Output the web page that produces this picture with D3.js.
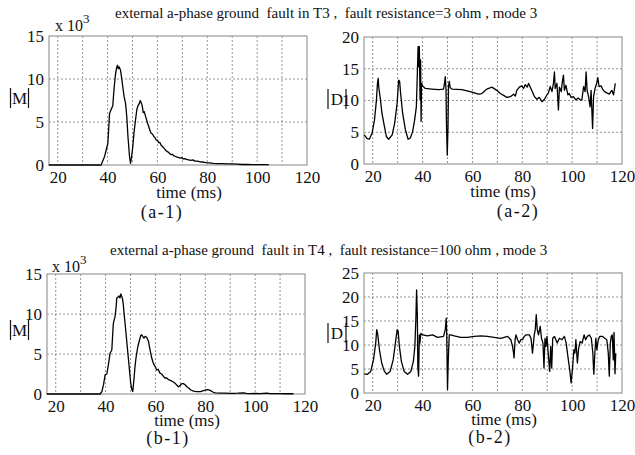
<!DOCTYPE html>
<html>
<head>
<meta charset="utf-8">
<script src="https://cdn.jsdelivr.net/npm/d3@7"></script>
<style>
  body { margin: 0; background: #fff; }
  svg text { font-family: "Liberation Serif", "Times New Roman", serif; fill: #111; }
</style>
</head>
<body>
<div id="chart"></div>
<script>
// Width and height
var w = 635;
var h = 455;

// x axis (time, ms)
var xTicks = [20, 40, 60, 80, 100, 120];
var xGrid = [20, 30, 40, 50, 60, 70, 80, 90, 100, 110];

// y ticks
var yTicksM = [0, 5, 10, 15];
var yTicksDa = [0, 5, 10, 15, 20];
var yTicksDb = [0, 5, 10, 15, 20, 25];

var titles = [
  "external a-phase ground  fault in T3 ,  fault resistance=3 ohm , mode 3",
  "external a-phase ground  fault in T4 ,  fault resistance=100 ohm , mode 3"
];
var captions = ["(a-1)", "(a-2)", "(b-1)", "(b-2)"];

// |M| (x 10^3), T3 fault, 3 ohm
var a1Series = [[16.4,0],[37.4,0],[38.8,1.0],[39.5,1.8],[40.1,2.5],[40.5,4.5],[40.8,6.0],[41.5,6.5],[42.1,6.9],
  [42.5,8.5],[42.8,9.5],[43.2,10.6],[43.7,11.4],[44.0,11.6],[44.3,11.2],[44.7,11.4],[45.2,11.0],[45.6,10.2],
  [46.1,9.1],[46.6,8.0],[47.2,7.2],[47.5,6.3],[47.7,5.6],[48.2,3.2],[48.8,1.0],[49.2,0.2],[49.6,0.9],[50.1,2.1],
  [50.6,3.8],[51.2,5.2],[51.7,6.4],[52.2,6.9],[52.8,7.2],[53.1,7.5],[53.4,7.3],[53.7,7.1],[54.0,6.7],[54.3,6.1],
  [54.7,6.2],[55.1,5.8],[55.6,5.3],[56.1,4.8],[56.5,4.5],[57.0,4.0],[57.5,3.7],[58.0,3.6],[58.6,3.3],[59.0,3.2],
  [59.5,2.9],[60.0,2.9],[60.5,2.6],[61.0,2.6],[61.5,2.3],[62.2,2.1],[62.8,1.9],[63.3,1.7],[63.8,1.6],[64.3,1.5],
  [64.9,1.35],[65.5,1.2],[66.0,1.25],[66.6,1.05],[67.2,1.0],[67.6,0.95],[68.3,0.9],[69.0,0.8],[69.7,0.85],[70.4,0.7],
  [71.0,0.75],[71.6,0.65],[72.5,0.6],[73.4,0.55],[74.2,0.6],[75.0,0.45],[76.0,0.45],[76.9,0.38],[78.0,0.35],
  [79.0,0.3],[80.0,0.25],[81.0,0.25],[82.3,0.2],[84.0,0.15],[86.0,0.15],[88.0,0.12],[90.3,0.12],[92.0,0.1],
  [94.0,0.06],[96.0,0.08],[98.0,0.05],[100.0,0.05],[102.0,0.04],[104.0,0.05],[104.6,0.03]];

// |D|, T3 fault, 3 ohm
var a2Series = [[16.6,4.6],[17.7,4.05],[18.6,3.9],[19.7,4.8],[20.7,6.9],[21.5,10.1],[21.9,12.7],[22.2,13.5],
  [22.4,12.2],[23.1,10.1],[23.7,8.0],[24.7,5.9],[25.5,4.3],[26.4,3.9],[27.8,4.6],[28.8,6.4],[29.8,9.6],[30.4,13.2],
  [30.8,13.0],[31.2,11.1],[32.0,8.0],[33.1,5.4],[34.2,3.9],[35.1,4.1],[36.0,5.1],[36.8,6.9],[37.5,9.0],[37.9,14.3],
  [38.2,18.5],[38.5,15.3],[38.7,18.5],[39.0,10.1],[39.2,16.4],[39.4,6.7],[39.6,12.7],[40.0,12.3],[41.1,11.9],
  [43.7,11.8],[46.5,11.7],[48.4,11.8],[48.8,12.7],[49.1,13.75],[49.4,11.7],[49.6,5.9],[49.9,1.4],[50.2,5.9],
  [50.4,12.2],[50.7,13.0],[51.1,12.0],[51.8,11.8],[55.8,11.7],[59.1,11.4],[62.4,11.0],[63.8,11.1],[65.8,11.8],
  [67.8,12.1],[69.8,11.6],[71.2,11.1],[72.5,10.8],[73.8,10.5],[75.2,10.6],[76.5,11.0],[77.2,10.7],[77.8,11.6],
  [78.8,12.1],[79.8,12.3],[80.5,11.9],[81.2,12.5],[82.0,12.1],[82.5,12.7],[83.2,12.1],[83.9,11.5],[84.9,10.6],
  [85.9,10.2],[86.8,10.5],[87.9,9.8],[88.9,10.2],[89.9,10.9],[90.5,11.2],[91.2,12.2],[91.9,11.4],[92.5,12.7],
  [92.9,14.5],[93.2,11.9],[93.9,12.7],[94.5,8.5],[94.9,12.1],[95.6,11.4],[96.1,13.0],[96.5,14.0],[96.9,11.6],
  [97.5,12.4],[98.3,10.9],[98.8,11.1],[99.6,10.5],[100.5,10.6],[101.5,10.1],[102.5,10.4],[103.2,10.1],[103.9,10.1],
  [104.6,12.2],[105.2,11.4],[105.6,14.5],[106.0,11.6],[106.6,10.6],[107.2,9.0],[107.6,11.6],[108.2,5.6],[108.6,10.6],
  [109.2,11.9],[109.9,12.8],[110.3,13.6],[110.8,12.2],[111.6,12.3],[112.2,11.8],[113.0,11.4],[113.9,11.2],
  [114.9,11.0],[115.9,11.6],[116.6,10.9],[117.3,12.7]];

// |M| (x 10^3), T4 fault, 100 ohm
var b1Series = [[16.4,0],[37.8,0],[38.5,0.3],[39.2,1.2],[39.8,2.4],[40.5,2.5],[41.2,3.8],[41.8,5.1],[42.5,5.5],
  [43.1,8.8],[43.8,9.7],[44.2,10.8],[44.5,12.0],[44.9,12.1],[45.4,12.25],[45.8,12.0],[46.1,12.5],[46.5,12.2],
  [46.8,11.9],[47.1,11.2],[47.4,10.1],[47.8,8.9],[48.2,7.6],[48.7,5.9],[49.2,4.25],[49.7,2.6],[50.1,1.3],[50.5,0.6],
  [50.9,0.3],[51.4,1.9],[51.8,3.4],[52.2,4.5],[52.5,5.1],[53.0,6.0],[53.6,6.75],[54.1,7.3],[54.5,7.4],[54.9,7.2],
  [55.4,7.0],[55.9,7.2],[56.5,7.1],[56.9,6.8],[57.2,6.6],[57.6,5.9],[58.1,5.1],[58.6,4.4],[59.2,3.8],[59.8,3.5],
  [60.5,3.0],[61.1,3.1],[61.8,2.6],[62.5,2.5],[63.2,2.2],[63.8,2.0],[64.5,2.0],[65.2,1.8],[66.0,1.7],[67.2,1.5],
  [68.0,1.3],[69.2,0.9],[70.0,1.1],[70.6,1.3],[71.2,1.3],[71.9,1.15],[72.6,0.9],[73.3,0.75],[74.2,0.5],[75.3,0.35],
  [76.5,0.3],[78.0,0.3],[79.0,0.4],[80.0,0.5],[81.0,0.55],[82.0,0.45],[83.0,0.25],[84.0,0.15],[86.0,0.12],
  [88.0,0.1],[90.0,0.08],[91.4,0.08],[93.0,0.1],[95.4,0.15],[96.5,0.08],[98.0,0.05],[100.0,0.06],[102.0,0.05],
  [104.7,0.1],[106.0,0.05],[108.0,0.04],[110.0,0.05],[112.0,0.03],[115.4,0.03]];

// |D|, T4 fault, 100 ohm
var b2Series = [[16.6,4.0],[17.9,3.9],[19.2,4.5],[20.3,6.9],[21.2,10.4],[21.6,13.2],[22.0,12.2],[22.7,9.0],
  [23.6,6.25],[24.6,4.6],[25.6,3.9],[27.0,4.5],[28.2,6.9],[29.1,10.4],[29.8,13.2],[30.2,12.9],[30.7,9.7],[31.5,6.6],
  [32.6,4.5],[34.0,3.9],[35.3,4.5],[36.3,6.6],[36.9,9.7],[37.3,15.3],[37.6,21.5],[37.9,16.0],[38.1,5.5],[38.4,3.5],
  [38.7,12.1],[38.9,10.4],[39.3,12.4],[40.0,12.1],[42.0,11.9],[44.0,12.1],[46.0,11.6],[48.4,11.8],[49.1,13.2],
  [49.5,15.6],[49.7,11.8],[50.0,0.7],[50.3,6.9],[50.7,12.1],[51.3,12.1],[52.7,11.9],[55.3,11.6],[58.0,11.6],
  [60.7,11.8],[63.4,11.9],[66.0,11.8],[68.7,11.6],[71.4,11.4],[74.1,11.8],[75.4,11.1],[76.1,9.7],[76.5,8.3],
  [76.7,7.3],[77.1,11.1],[77.5,12.1],[78.1,11.1],[78.8,10.4],[79.4,11.1],[80.1,11.1],[80.8,11.8],[81.4,12.1],
  [82.1,12.1],[82.8,12.1],[83.5,11.4],[84.1,8.3],[84.8,12.1],[85.2,13.2],[85.6,16.3],[86.0,13.2],[86.5,12.1],
  [87.2,13.9],[87.7,11.4],[88.3,10.4],[88.7,5.2],[89.1,11.4],[89.5,9.7],[89.9,11.8],[90.6,6.9],[91.0,4.5],
  [91.4,9.7],[91.8,5.2],[92.2,11.4],[92.9,11.8],[94.0,10.4],[94.9,11.4],[95.9,11.1],[96.9,11.8],[97.6,10.4],
  [98.3,7.6],[99.1,4.5],[99.6,2.1],[100.2,5.5],[100.7,9.0],[101.1,8.3],[101.5,11.1],[102.1,6.25],[102.6,9.3],
  [103.2,10.7],[104.0,10.4],[104.8,12.1],[105.4,11.1],[106.1,11.8],[106.9,12.1],[107.7,11.4],[108.3,8.3],
  [108.7,3.9],[109.1,8.3],[109.5,11.4],[109.9,9.0],[110.5,11.1],[111.1,11.8],[112.1,11.8],[113.1,11.4],
  [113.9,11.1],[114.5,8.3],[114.9,3.5],[115.3,10.4],[115.7,11.8],[116.1,12.1],[116.5,6.9],[116.8,12.6],
  [117.2,4.0],[117.5,8.3]];

var serif = "'Liberation Serif', 'Times New Roman', serif";

// Create SVG element
var svg = d3.select("#chart")
  .append("svg")
  .attr("width", w)
  .attr("height", h)
  .attr("font-family", serif);

// panel layout (pixel boxes) - positions only
var panels = [
  { data: a1Series, yTicks: yTicksM, yMax: 15, sym: "M", exp: true, caption: captions[0],
    left: 49, right: 307, top: 36, bottom: 165, capX: 162, capY: 218, labX: 189, labY: 198,
    symX: 19.5, symY: 98, expX: 55, expY: 31 },
  { data: a2Series, yTicks: yTicksDa, yMax: 20, sym: "D", exp: false, caption: captions[1],
    left: 364, right: 622, top: 37, bottom: 164, capX: 518, capY: 217, labX: 503, labY: 197,
    symX: 337, symY: 99 },
  { data: b1Series, yTicks: yTicksM, yMax: 15, sym: "M", exp: true, caption: captions[2],
    left: 47, right: 305, top: 274, bottom: 394, capX: 168, capY: 444, labX: 187, labY: 426,
    symX: 19.5, symY: 330, expX: 52, expY: 272 },
  { data: b2Series, yTicks: yTicksDb, yMax: 25, sym: "D", exp: false, caption: captions[3],
    left: 364, right: 622, top: 273, bottom: 393, capX: 490, capY: 443, labX: 504, labY: 425,
    symX: 337, symY: 333 }
];

// titles
svg.append("text")
  .attr("x", 115).attr("y", 18)
  .style("font-size", "15px")
  .style("white-space", "pre")
  .text(titles[0]);
svg.append("text")
  .attr("x", 110).attr("y", 255)
  .style("font-size", "15px")
  .style("white-space", "pre")
  .text(titles[1]);

panels.forEach(function(p) {

  var x = d3.scaleLinear()
    .domain([16.5, 120])
    .range([p.left, p.right]);

  var y = d3.scaleLinear()
    .domain([0, p.yMax])
    .range([p.bottom, p.top]);

  var g = svg.append("g");

  // dotted grid
  g.selectAll(".vgrid")
    .data(xGrid)
    .enter()
    .append("line")
    .attr("x1", function(d) { return x(d); })
    .attr("x2", function(d) { return x(d); })
    .attr("y1", p.top)
    .attr("y2", p.bottom)
    .attr("stroke", "#777")
    .attr("stroke-width", 0.8)
    .attr("stroke-dasharray", "2,2");

  g.selectAll(".hgrid")
    .data(p.yTicks.filter(function(d) { return d > 0 && d < p.yMax; }))
    .enter()
    .append("line")
    .attr("x1", p.left)
    .attr("x2", p.right)
    .attr("y1", function(d) { return y(d); })
    .attr("y2", function(d) { return y(d); })
    .attr("stroke", "#777")
    .attr("stroke-width", 0.8)
    .attr("stroke-dasharray", "2,2");

  // frame
  g.append("rect")
    .attr("x", p.left)
    .attr("y", p.top)
    .attr("width", p.right - p.left)
    .attr("height", p.bottom - p.top)
    .attr("fill", "none")
    .attr("stroke", "#999")
    .attr("stroke-width", 1.2);

  // axes (labels only)
  var xAxis = g.append("g")
    .attr("transform", "translate(0," + p.bottom + ")")
    .call(d3.axisBottom(x).tickValues(xTicks).tickSize(0).tickPadding(6));
  var yAxis = g.append("g")
    .attr("transform", "translate(" + p.left + ",0)")
    .call(d3.axisLeft(y).tickValues(p.yTicks).tickSize(0).tickPadding(5));

  [xAxis, yAxis].forEach(function(a) {
    a.attr("font-family", serif).attr("font-size", null);
    a.select(".domain").remove();
    a.selectAll("text")
      .style("font-family", serif)
      .style("font-size", "17px")
      .attr("fill", "#111");
  });

  // signal
  var line = d3.line()
    .x(function(d) { return x(d[0]); })
    .y(function(d) { return y(d[1]); });

  g.append("path")
    .datum(p.data)
    .attr("d", line)
    .attr("fill", "none")
    .attr("stroke", "#000")
    .attr("stroke-width", 1.3)
    .attr("stroke-linejoin", "round");

  // axis label and caption
  g.append("text")
    .attr("x", p.labX).attr("y", p.labY)
    .attr("text-anchor", "middle")
    .style("font-size", "17px")
    .text("time (ms)");

  g.append("text")
    .attr("x", p.capX).attr("y", p.capY)
    .attr("text-anchor", "middle")
    .style("font-size", "18px")
    .style("letter-spacing", "1.5px")
    .text(p.caption);

  // |M| or |D|
  g.append("text")
    .attr("x", p.symX).attr("y", p.symY + 6)
    .attr("text-anchor", "middle")
    .style("font-size", "17px")
    .text(p.sym);
  [-9, 9].forEach(function(dx) {
    g.append("line")
      .attr("x1", p.symX + dx).attr("x2", p.symX + dx)
      .attr("y1", p.symY - 10).attr("y2", p.symY + 10)
      .attr("stroke", "#111")
      .attr("stroke-width", 1.2);
  });

  // x 10^3
  if (p.exp) {
    var t = g.append("text")
      .attr("x", p.expX).attr("y", p.expY)
      .style("font-size", "16px");
    t.append("tspan").text("x 10");
    t.append("tspan")
      .attr("dy", -8)
      .style("font-size", "13px")
      .text("3");
  }
});
</script>
</body>
</html>
